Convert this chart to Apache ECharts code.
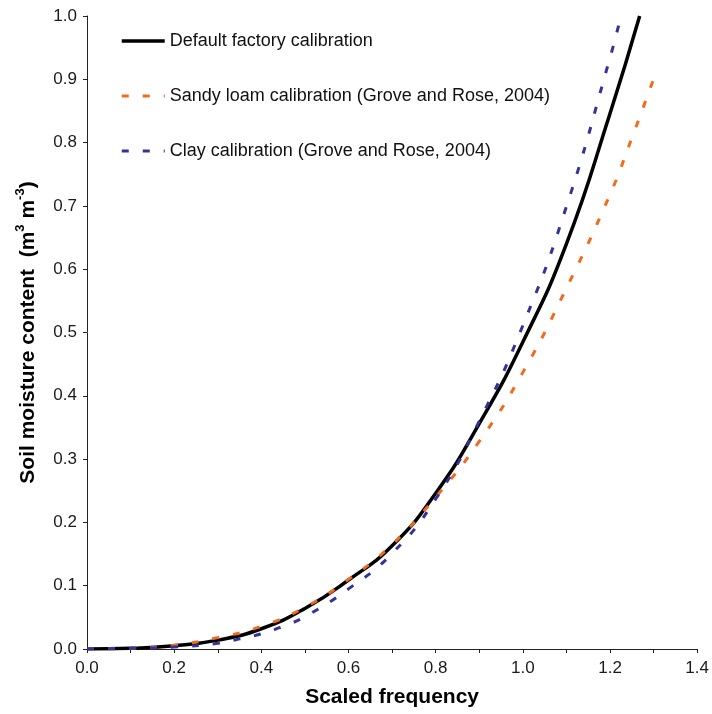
<!DOCTYPE html>
<html>
<head>
<meta charset="utf-8">
<script src="https://cdn.jsdelivr.net/npm/echarts@6/dist/echarts.min.js"></script>
<style>
  html, body { margin: 0; padding: 0; background: #ffffff; }
  #chart { width: 712px; height: 714px; }
</style>
</head>
<body>
<div id="chart"></div>
<script>
// Calibration curves: soil moisture content vs scaled frequency
const seriesNames = [
  'Default factory calibration',
  'Sandy loam calibration (Grove and Rose, 2004)',
  'Clay calibration (Grove and Rose, 2004)'
];

const defaultFreq     = [0, 0.1, 0.2, 0.3, 0.4, 0.5, 0.6, 0.7, 0.8, 0.9, 1.0, 1.1, 1.2, 1.268];
const defaultMoisture = [0, 0.001, 0.005, 0.014, 0.032, 0.064, 0.109, 0.163, 0.246, 0.356, 0.485, 0.640, 0.846, 1.0];

const sandyFreq     = [0, 0.1, 0.2, 0.3, 0.4, 0.5, 0.6, 0.7, 0.8, 0.9, 1.0, 1.1, 1.2, 1.25, 1.305];
const sandyMoisture = [0, 0.001, 0.006, 0.018, 0.036, 0.066, 0.110, 0.165, 0.240, 0.328, 0.437, 0.570, 0.718, 0.807, 0.91];

const clayFreq     = [0, 0.1, 0.2, 0.3, 0.35, 0.4, 0.45, 0.5, 0.6, 0.7, 0.8, 0.9, 1.0, 1.1, 1.2, 1.225];
const clayMoisture = [0, 0.001, 0.003, 0.009, 0.016, 0.024, 0.036, 0.051, 0.095, 0.151, 0.237, 0.360, 0.511, 0.699, 0.934, 1.0];

const xTickLabels = ['0.0', '0.2', '0.4', '0.6', '0.8', '1.0', '1.2', '1.4'];
const yTickLabels = ['0.0', '0.1', '0.2', '0.3', '0.4', '0.5', '0.6', '0.7', '0.8', '0.9', '1.0'];

const FONT = '"Liberation Sans", Arial, Helvetica, sans-serif';

function pairs(xs, ys) {
  return xs.map((x, i) => [x, ys[i]]);
}

const chart = echarts.init(document.getElementById('chart'), null, { renderer: 'canvas' });

const axisCommon = {
  axisLine: { show: true, onZero: false, lineStyle: { color: '#222', width: 1 } },
  axisTick: { show: true, inside: false, length: 4, lineStyle: { color: '#222', width: 1 } },
  splitLine: { show: false }
};

chart.setOption({
  animation: false,
  backgroundColor: '#ffffff',
  textStyle: { fontFamily: FONT },
  grid: { left: 87, right: 11, top: 16, bottom: 65, containLabel: false },
  legend: {
    orient: 'vertical',
    left: 120,
    top: 31,
    padding: 0,
    itemWidth: 43,
    itemHeight: 20,
    itemGap: 35,
    data: seriesNames,
    itemStyle: { opacity: 0 },
    lineStyle: { width: 'inherit', type: 'inherit' },
    textStyle: { fontFamily: FONT, fontSize: 18, color: '#111', lineHeight: 20 }
  },
  xAxis: Object.assign({}, axisCommon, {
    type: 'value',
    min: 0,
    max: 1.4,
    interval: 0.1,
    name: 'Scaled frequency',
    nameLocation: 'middle',
    nameGap: 38,
    nameTextStyle: { fontFamily: FONT, fontSize: 21, fontWeight: 'bold', color: '#000' },
    axisLabel: {
      margin: 11,
      fontFamily: FONT,
      fontSize: 17,
      color: '#1a1a1a',
      showMaxLabel: true,
      formatter: v => {
        const s = v.toFixed(1);
        return xTickLabels.includes(s) ? s : '';
      }
    }
  }),
  yAxis: Object.assign({}, axisCommon, {
    type: 'value',
    min: 0,
    max: 1.0,
    interval: 0.1,
    name: '{t|Soil moisture content  (m}{sup|3}{t| m}{sup|-3}{t|)}',
    nameLocation: 'middle',
    nameGap: 45,
    nameTextStyle: {
      fontFamily: FONT, fontSize: 21, fontWeight: 'bold', color: '#000',
      rich: {
        t: { fontFamily: FONT, fontSize: 21, fontWeight: 'bold', color: '#000', lineHeight: 28 },
        sup: { fontFamily: FONT, fontSize: 13, fontWeight: 'bold', color: '#000', lineHeight: 18, verticalAlign: 'top' }
      }
    },
    axisLabel: {
      margin: 10,
      fontFamily: FONT,
      fontSize: 17,
      color: '#1a1a1a',
      formatter: v => yTickLabels[Math.round(v * 10)] || ''
    }
  }),
  series: [
    {
      name: seriesNames[0],
      type: 'line',
      data: pairs(defaultFreq, defaultMoisture),
      smooth: 0.5,
      symbol: 'none',
      lineStyle: { color: '#000000', width: 3.5, type: 'solid' },
      itemStyle: { color: '#000000' },
      z: 2
    },
    {
      name: seriesNames[1],
      type: 'line',
      data: pairs(sandyFreq, sandyMoisture),
      smooth: 0.5,
      symbol: 'none',
      lineStyle: { color: '#f26a1e', width: 3, type: [7, 14] },
      itemStyle: { color: '#f26a1e' },
      z: 3
    },
    {
      name: seriesNames[2],
      type: 'line',
      data: pairs(clayFreq, clayMoisture),
      smooth: 0.5,
      symbol: 'none',
      lineStyle: { color: '#33339a', width: 3, type: [7, 14] },
      itemStyle: { color: '#33339a' },
      z: 4
    }
  ]
});
</script>
</body>
</html>
